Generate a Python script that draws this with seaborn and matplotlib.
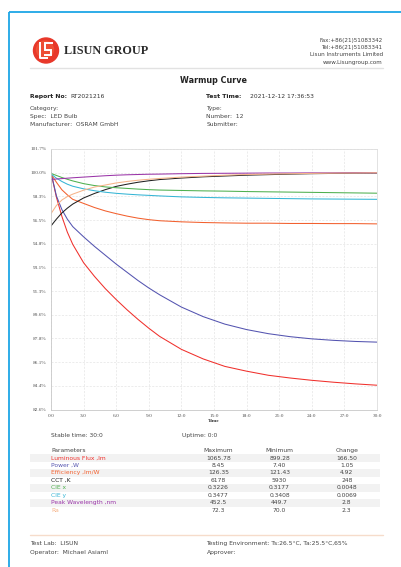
import numpy as np
import pandas as pd
import matplotlib
matplotlib.use("Agg")
import matplotlib.pyplot as plt
import matplotlib.patches as mpatches
import seaborn as sns

# ---------------- data ----------------
time_min = [0, 0.5, 1, 1.5, 2, 3, 4, 5, 6, 7, 8, 9, 10, 12, 14, 16, 18, 20, 22, 24, 26, 28, 30]
flux = [100.0, 98.2, 96.8, 95.65, 94.75, 93.4, 92.4, 91.5, 90.7, 89.95, 89.25, 88.6, 88.0, 87.05, 86.35,
        85.8, 85.45, 85.15, 84.95, 84.78, 84.64, 84.52, 84.42]
power = [100.0, 98.3, 97.3, 96.6, 96.05, 95.3, 94.6, 93.95, 93.3, 92.7, 92.1, 91.55, 91.05, 90.15,
         89.45, 88.9, 88.5, 88.2, 87.98, 87.82, 87.71, 87.63, 87.58]
efficiency = [99.9, 99.3, 98.75, 98.38, 98.05, 97.75, 97.45, 97.2, 97.0, 96.82, 96.67, 96.56, 96.48, 96.4,
              96.35, 96.32, 96.3, 96.3, 96.28, 96.28, 96.27, 96.27, 96.25]
cct = [96.1, 96.6, 97.05, 97.4, 97.7, 98.15, 98.48, 98.76, 99.0, 99.16, 99.3, 99.41, 99.5, 99.61,
       99.7, 99.76, 99.82, 99.86, 99.9, 99.93, 99.95, 99.97, 99.98]
cie_x = [99.95, 99.8, 99.65, 99.52, 99.4, 99.2, 99.06, 98.96, 98.9, 98.85, 98.8, 98.76, 98.73, 98.7,
         98.67, 98.65, 98.62, 98.6, 98.58, 98.56, 98.54, 98.52, 98.5]
cie_y = [99.9, 99.6, 99.36, 99.16, 99.01, 98.82, 98.68, 98.57, 98.49, 98.43, 98.38, 98.34, 98.3, 98.23,
         98.19, 98.16, 98.14, 98.12, 98.1, 98.08, 98.07, 98.06, 98.05]
peak_wl = [99.5, 99.54, 99.57, 99.6, 99.63, 99.68, 99.73, 99.78, 99.82, 99.85, 99.87, 99.89, 99.9,
           99.93, 99.95, 99.96, 99.97, 99.98, 99.98, 99.99, 99.99, 100.0, 100.0]
ra = [97.0, 97.6, 98.0, 98.25, 98.43, 98.72, 98.95, 99.1, 99.25, 99.36, 99.45, 99.52, 99.58, 99.68,
      99.75, 99.82, 99.87, 99.9, 99.93, 99.95, 99.97, 99.98, 100.0]

x_ticks = [0, 3, 6, 9, 12, 15, 18, 21, 24, 27, 30]
x_tick_labels = ["0:0", "3:0", "6:0", "9:0", "12:0", "15:0", "18:0", "21:0", "24:0", "27:0", "30:0"]
y_tick_labels = ["82.6%", "84.4%", "86.1%", "87.8%", "89.6%", "91.3%", "93.1%", "94.8%",
                 "96.5%", "98.3%", "100.0%", "101.7%"]
y_min, y_max = 82.64, 101.74

param_names = ["Luminous Flux ,lm", "Power ,W", "Efficiency ,lm/W", "CCT ,K", "CIE x", "CIE y",
               "Peak Wavelength ,nm", "Ra"]
max_vals = ["1065.78", "8.45", "126.35", "6178", "0.3226", "0.3477", "452.5", "72.3"]
min_vals = ["899.28", "7.40", "121.43", "5930", "0.3177", "0.3408", "449.7", "70.0"]
change_vals = ["166.50", "1.05", "4.92", "248", "0.0048", "0.0069", "2.8", "2.3"]

series = [flux, power, efficiency, cct, cie_x, cie_y, peak_wl, ra]
param_colors = ["#f0302c", "#5454b0", "#f2602e", "#202020", "#4fb04f", "#35b5d5", "#9a35a8", "#f6b489"]

# ---------------- figure ----------------
sns.set_style("white")
plt.rcParams["font.family"] = ["DejaVu Sans"]

W, H = 401, 567
fig = plt.figure(figsize=(W / 100, H / 100), dpi=100)

# overlay axes in pixel coordinates
bg = fig.add_axes([0, 0, 1, 1])
bg.set_xlim(0, W)
bg.set_ylim(H, 0)
bg.axis("off")
bg.patch.set_alpha(0)

# blue border
bg.plot([9, W], [12, 12], color="#1ea6e6", lw=1.3, solid_capstyle="butt")
bg.plot([9, 9], [12, H], color="#1ea6e6", lw=1.3, solid_capstyle="butt")

# logo
bg.add_patch(mpatches.Circle((46, 50.5), 12.5, color="#e8382a"))
bg.add_patch(mpatches.Circle((45, 49.5), 8.5, color="#f25c3a", alpha=0.6))
bg.plot([40, 40, 48], [42, 57.5, 57.5], color="white", lw=1.4, solid_capstyle="butt")
bg.plot([53, 44.5, 44.5, 51, 51, 44], [42.5, 42.5, 49.5, 49.5, 55, 55], color="white", lw=1.4,
        solid_capstyle="butt", solid_joinstyle="miter")

def T(x, y, s, **kw):
    kw.setdefault("va", "center")
    kw.setdefault("fontsize", 4.3)
    kw.setdefault("color", "#333333")
    bg.text(x, y, s, **kw)

T(63.5, 50.5, "LISUN GROUP", family="Liberation Serif", fontweight="bold", fontsize=8.7, color="#2b2b2b")
for yy, s in zip([40.7, 47.7, 55.0, 62.7],
                 ["Fax:+86(21)51083342", "Tel:+86(21)51083341", "Lisun Instruments Limited",
                  "www.Lisungroup.com"]):
    T(383, yy, s, ha="right", fontsize=4.1, color="#444444")
bg.plot([30, 383], [67.5, 67.5], color="#e2e2e2", lw=1.0)

T(213, 80.5, "Warmup Curve", ha="center", fontweight="bold", fontsize=5.8, color="#222222")
T(30, 96.7, "Report No:", fontweight="bold", fontsize=4.4, color="#222222")
T(70, 96.7, "RT2021216", fontsize=4.3)
T(206.5, 96.7, "Test Time:", fontweight="bold", fontsize=4.4, color="#222222")
T(249.5, 96.7, "2021-12-12 17:36:53", fontsize=4.3)
T(30, 108.5, "Category:", color="#444444")
T(30, 116.7, "Spec:  LED Bulb", color="#444444")
T(30, 125.0, "Manufacturer:  OSRAM GmbH", color="#444444")
T(206.5, 108.5, "Type:", color="#444444")
T(206.5, 116.7, "Number:  12", color="#444444")
T(206.5, 125.0, "Submitter:", color="#444444")

# stable time / uptime
T(51, 435.7, "Stable time: 30:0", color="#444444")
T(181.7, 435.7, "Uptime: 0:0", color="#444444")

# table
T(51, 450.7, "Parameters", color="#444444")
T(218.5, 450.7, "Maximum", ha="center", color="#444444")
T(279.5, 450.7, "Minimum", ha="center", color="#444444")
T(346.7, 450.7, "Change", ha="center", color="#444444")
row_y0, row_dy = 458.0, 7.47
for i, (name, mx, mn, ch, col) in enumerate(zip(param_names, max_vals, min_vals, change_vals, param_colors)):
    yy = row_y0 + i * row_dy
    if i % 2 == 0:
        bg.add_patch(mpatches.Rectangle((30, yy - row_dy / 2), 350, row_dy, color="#f2f2f2", lw=0))
    T(51, yy, name, color=col)
    T(218.5, yy, mx, ha="center", color="#444444")
    T(279.5, yy, mn, ha="center", color="#444444")
    T(346.7, yy, ch, ha="center", color="#444444")

# footer
bg.plot([30, 383], [535.3, 535.3], color="#f6dccb", lw=1.0)
T(30, 543.7, "Test Lab:  LISUN", color="#444444")
T(30, 552.3, "Operator:  Michael Asiaml", color="#444444")
T(206.5, 543.7, "Testing Environment: Ts:26.5\u00b0C, Ta:25.5\u00b0C,65%", color="#444444")
T(206.5, 552.3, "Approver:", color="#444444")

# ---------------- chart ----------------
ax = fig.add_axes([51 / W, 1 - 409.5 / H, (377 - 51) / W, (409.5 - 149) / H])
rows = []
for name, vals in zip(param_names, series):
    for t, v in zip(time_min, vals):
        rows.append({"time": t, "value": v, "param": name})
df = pd.DataFrame(rows)
palette = dict(zip(param_names, param_colors))
sns.lineplot(data=df, x="time", y="value", hue="param", palette=palette, ax=ax,
             legend=False, linewidth=0.75, estimator=None)

ax.set_xlim(0, 30)
ax.set_ylim(y_min, y_max)
ax.set_xticks(x_ticks)
ax.set_xticklabels(x_tick_labels)
ax.set_yticks(np.linspace(y_min, y_max, len(y_tick_labels)))
ax.set_yticklabels(y_tick_labels)
for lbl in ax.get_xticklabels() + ax.get_yticklabels():
    lbl.set_family("Liberation Serif")
    lbl.set_fontsize(3.8)
    lbl.set_color("#555555")
ax.tick_params(axis="both", length=2, width=0.5, color="#bbbbbb", pad=1.2)
ax.grid(True, color="#e4e4e4", lw=0.5, ls=(0, (3, 2)))
for side, sp in ax.spines.items():
    sp.set_color("#dddddd" if side in ("top", "right") else "#c8c8c8")
    sp.set_linewidth(0.6)
ax.set_xlabel("Time", fontsize=3.8, fontweight="bold", family="Liberation Serif", color="#333333", labelpad=0.5)
ax.set_ylabel("")

fig.savefig("out.png", dpi=100)
